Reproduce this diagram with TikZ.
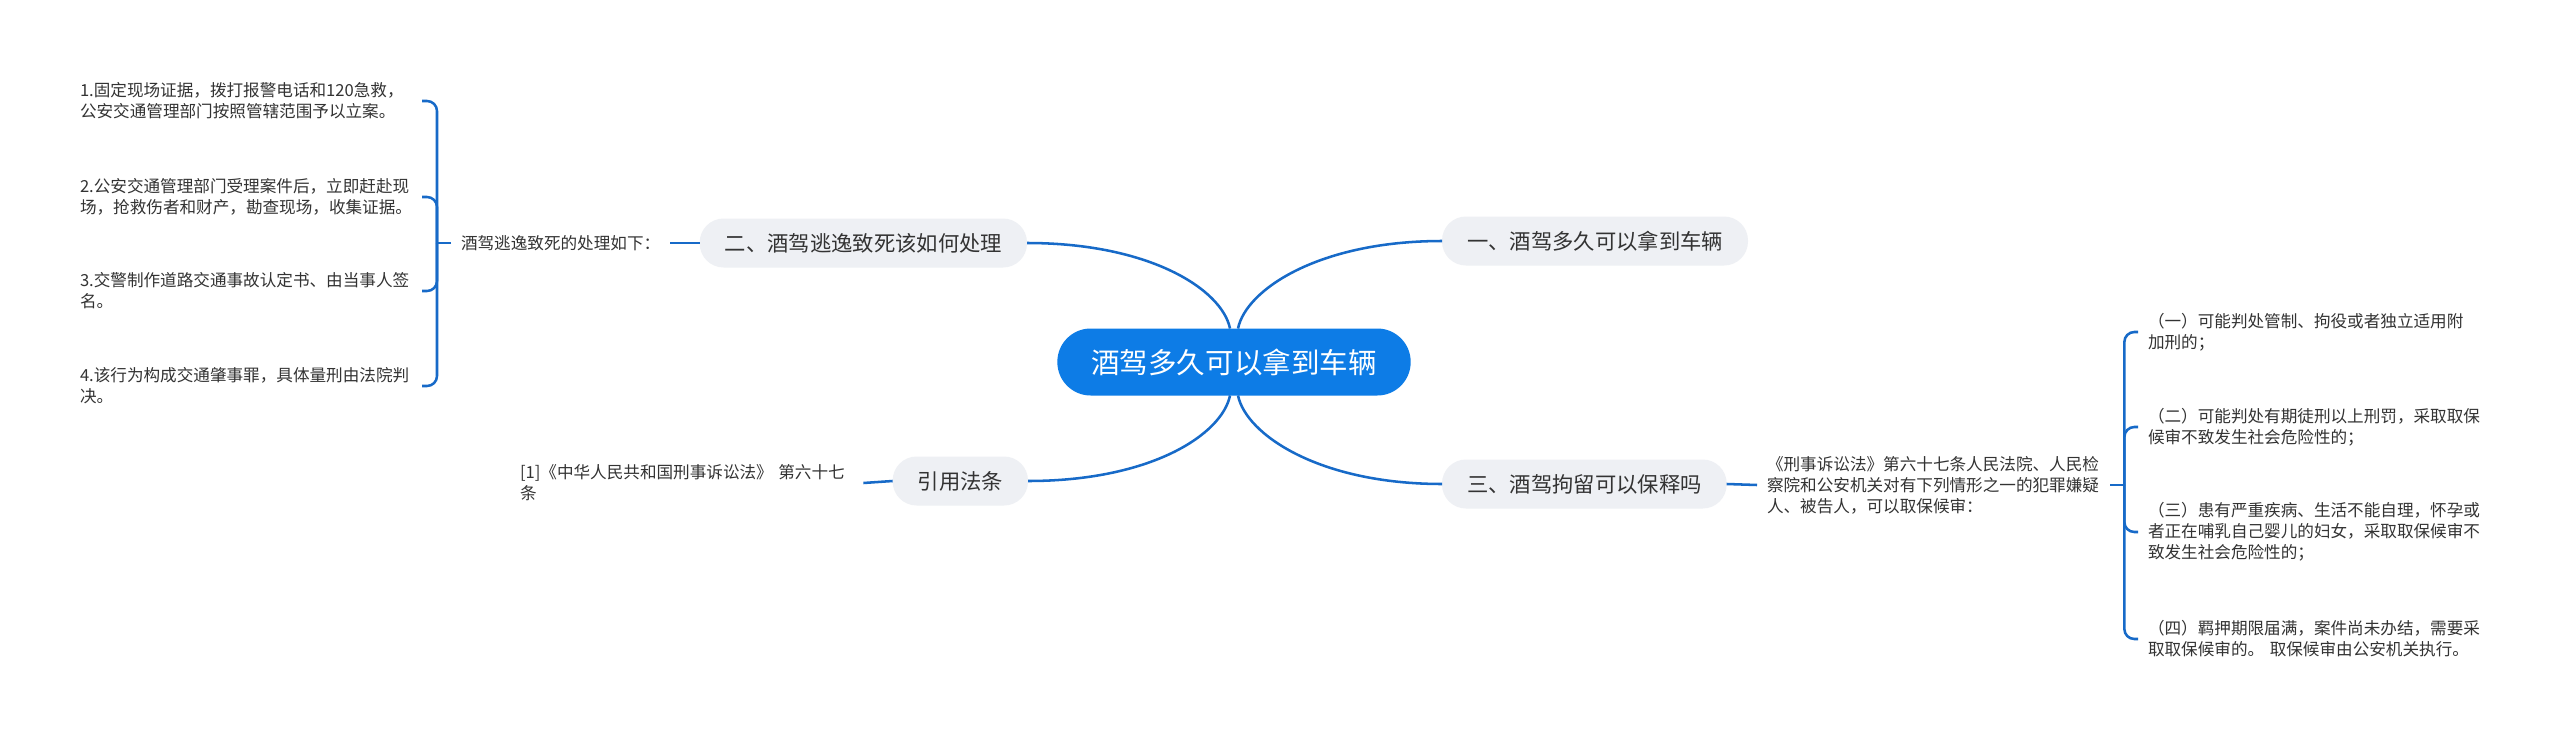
\documentclass[tikz,border=0pt]{standalone}
\usepackage{fontspec}
\setmainfont{Noto Sans CJK SC}
\definecolor{mapBlue}{RGB}{13, 124, 230}
\definecolor{linkBlue}{RGB}{23, 106, 200}
\definecolor{topicGray}{RGB}{238, 240, 244}
\definecolor{textGray}{RGB}{51, 51, 51}
\usetikzlibrary{positioning}

\tikzset{
  link/.style={draw=linkBlue, line width=1.9pt},
  fork/.style={link, rounded corners=7.5pt},
  topic/.style={fill=topicGray, text=textGray, rounded corners=18pt, minimum height=36.75pt,
    inner xsep=18.75pt, outer sep=0pt, font=\fontsize{16}{19}\selectfont},
  leaf/.style={text=textGray, align=left, inner xsep=7.5pt, outer sep=0pt,
    font=\fontsize{12.45}{15.75}\selectfont},
}

\begin{document}
\begin{tikzpicture}[x=0.75pt, y=-0.75pt]
    \fill[white] (0,0) rectangle (2560,739);
    \useasboundingbox (0,0) rectangle (2560,739);

    \node[fill=mapBlue, text=white, rounded corners=25pt, minimum height=50.25pt, inner xsep=25.5pt,
      outer sep=0pt, font=\fontsize{21.4}{25}\selectfont] (root) at (1234,362) {酒驾多久可以拿到车辆};

    \node[topic, anchor=west] (b1) at (1442,241) {一、酒驾多久可以拿到车辆};
    \node[topic, anchor=east] (b2) at (1027,243) {二、酒驾逃逸致死该如何处理};
    \node[topic, anchor=west] (b3) at (1442,484) {三、酒驾拘留可以保释吗};
    \node[topic, anchor=east] (b4) at (1028,481) {引用法条};

    \draw[link] ([xshift=3pt]root.north) .. controls +(8,-39) and +(-123,0) .. (b1.west);
    \draw[link] ([xshift=-3pt]root.north) .. controls +(-8,-39) and +(123,0) .. (b2.east);
    \draw[link] ([xshift=3pt]root.south) .. controls +(8,39) and +(-123,0) .. (b3.west);
    \draw[link] ([xshift=-3pt]root.south) .. controls +(-8,39) and +(123,0) .. (b4.east);

    \node[leaf, anchor=west] (lsum) at (451,243) {酒驾逃逸致死的处理如下：};
    \coordinate (lfork) at ([xshift=-10.5pt]lsum.west);
    \node[leaf, anchor=west, text width=249pt] (l1) at (70,101) {1.固定现场证据，拨打报警电话和120急救，\\公安交通管理部门按照管辖范围予以立案。};
    \node[leaf, anchor=west, text width=249pt] (l2) at (70,197) {2.公安交通管理部门受理案件后，立即赶赴现\\场，抢救伤者和财产，勘查现场，收集证据。};
    \node[leaf, anchor=west, text width=249pt] (l3) at (70,291) {3.交警制作道路交通事故认定书、由当事人签\\名。};
    \node[leaf, anchor=west, text width=249pt] (l4) at (70,386) {4.该行为构成交通肇事罪，具体量刑由法院判\\决。};
    \draw[link] (b2.west) -- (lsum.east);
    \draw[link] (lsum.west) -- (lfork);
    \foreach \i in {1,...,4}
      \draw[fork] (lfork) |- (l\i.east);

    \node[leaf, anchor=west, text width=250pt] (rsum) at (1757,485) {《刑事诉讼法》第六十七条人民法院、人民检\\察院和公安机关对有下列情形之一的犯罪嫌疑\\人、被告人，可以取保候审：};
    \coordinate (rfork) at ([xshift=10.5pt]rsum.east);
    \node[leaf, anchor=west, text width=251pt] (r1) at (2138,332) {（一）可能判处管制、拘役或者独立适用附\\加刑的；};
    \node[leaf, anchor=west, text width=251pt] (r2) at (2138,427) {（二）可能判处有期徒刑以上刑罚，采取取保\\候审不致发生社会危险性的；};
    \node[leaf, anchor=west, text width=251pt] (r3) at (2138,532) {（三）患有严重疾病、生活不能自理，怀孕或\\者正在哺乳自己婴儿的妇女，采取取保候审不\\致发生社会危险性的；};
    \node[leaf, anchor=west, text width=251pt] (r4) at (2138,639) {（四）羁押期限届满，案件尚未办结，需要采\\取取保候审的。 取保候审由公安机关执行。};
    \draw[link] (b3.east) -- (rsum.west);
    \draw[link] (rsum.east) -- (rfork);
    \foreach \i in {1,...,4}
      \draw[fork] (rfork) |- (r\i.west);

    \node[leaf, anchor=west, text width=250pt] (cite) at (510,483) {[1]《中华人民共和国刑事诉讼法》 第六十七\\条};
    \draw[link] (b4.west) -- (cite.east);
\end{tikzpicture}
\end{document}
